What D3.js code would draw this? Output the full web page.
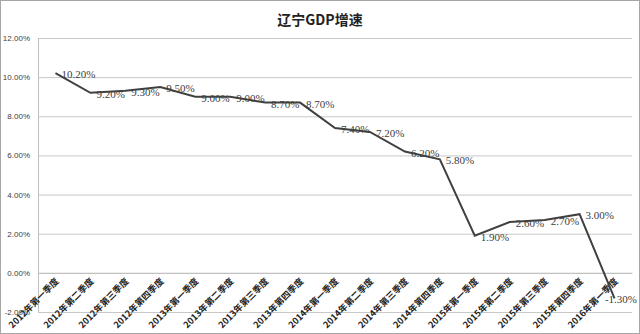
<!DOCTYPE html>
<html><head><meta charset="utf-8">
<script src="https://cdn.jsdelivr.net/npm/d3@7"></script>
<style>body{margin:0;background:#fff}svg{display:block}</style>
</head><body>
<svg id="c" width="640" height="334"></svg>
<script>
const title = "辽宁GDP增速";
const categories = ["2012年第一季度","2012年第二季度","2012年第三季度","2012年第四季度",
  "2013年第一季度","2013年第二季度","2013年第三季度","2013年第四季度",
  "2014年第一季度","2014年第二季度","2014年第三季度","2014年第四季度",
  "2015年第一季度","2015年第二季度","2015年第三季度","2015年第四季度","2016年第一季度"];
const growth = [10.2,9.2,9.3,9.5,9.0,9.0,8.7,8.7,7.4,7.2,6.2,5.8,1.9,2.6,2.7,3.0,-1.3];
const yTicks = [-2,0,2,4,6,8,10,12];

const svg = d3.select("#c");
const W = 640, H = 334;
const m = {l:38, r:8, t:38, b:22};
svg.append("rect").attr("x",0.5).attr("y",0.5).attr("width",W-1).attr("height",H-1)
  .attr("fill","#fff").attr("stroke","#a6a6a6");

const x = d3.scaleBand().domain(categories).range([m.l, W-m.r]);
const y = d3.scaleLinear().domain([-2,12]).range([H-m.b, m.t]);

svg.append("text").attr("x",W/2).attr("y",25).attr("text-anchor","middle")
  .attr("font-family","Noto Sans CJK SC").attr("font-weight","bold").attr("font-size",14)
  .attr("fill","#222").text(title);

// gridlines + y axis
const ya = svg.append("g").attr("transform",`translate(${m.l},0)`)
  .call(d3.axisLeft(y).tickValues(yTicks).tickSize(-(W-m.r-m.l)).tickPadding(8)
    .tickFormat(d=>d.toFixed(2)+"%"));
ya.select(".domain").attr("stroke","#bfbfbf");
ya.selectAll(".tick line").attr("stroke","#c8c8c8");
ya.selectAll(".tick text").attr("font-family","Liberation Sans").attr("font-size",8).attr("fill","#404040");

// x axis at 0
const xa = svg.append("g").attr("transform",`translate(0,${y(0)})`)
  .call(d3.axisBottom(x).tickSize(0).tickPadding(0));
xa.select(".domain").attr("stroke","#bfbfbf");
xa.selectAll(".tick text")
  .attr("font-family","Noto Sans CJK SC").attr("font-size",9).attr("font-weight","bold").attr("fill","#222")
  .attr("text-anchor","end").attr("dy",0).attr("y",0)
  .attr("transform","translate(4,9) rotate(-45)");

// line
const line = d3.line().x((d,i)=>x(categories[i])+x.bandwidth()/2).y(d=>y(d));
svg.append("path").datum(growth).attr("d",line).attr("fill","none")
  .attr("stroke","#404040").attr("stroke-width",2);

// labels
const labels = svg.append("g").selectAll("text").data(growth).join("text")
  .attr("x",(d,i)=>x(categories[i])+x.bandwidth()/2+6)
  .attr("y",d=>y(d)+5)
  .attr("font-family","Liberation Serif").attr("font-size",11).attr("fill","#404040")
  .text(d=>d.toFixed(2)+"%");
labels.each(function(){
  const b = this.getBBox();
  if (b.x + b.width > W - 3) d3.select(this).attr("x", W - 3 - b.width);
});
</script>
</body></html>
